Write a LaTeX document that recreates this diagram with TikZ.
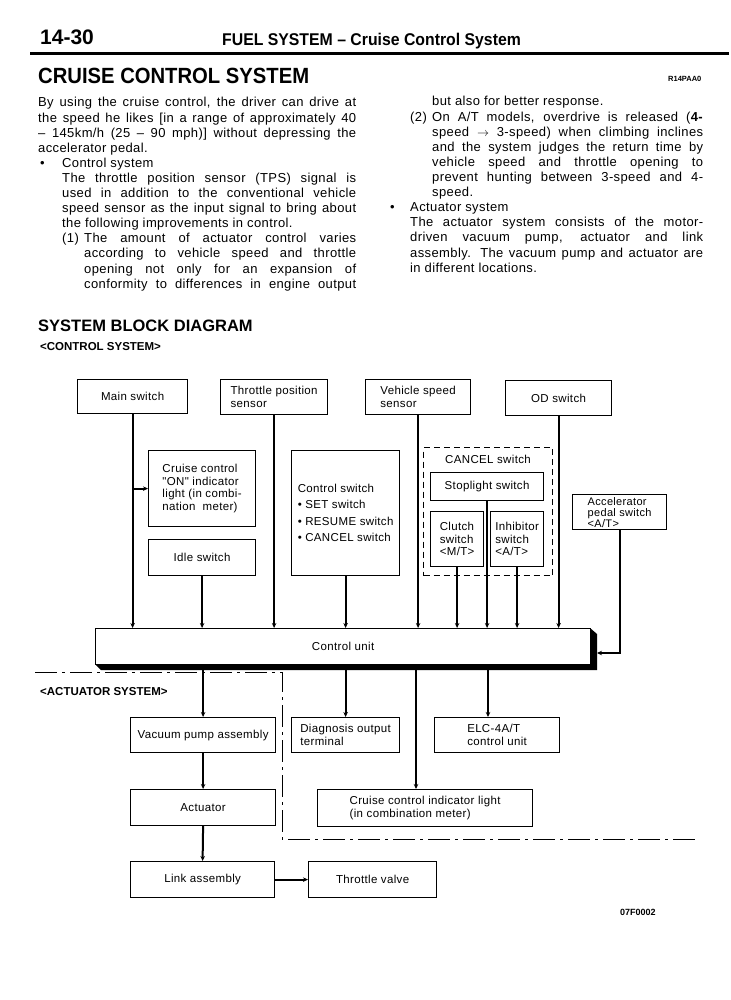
\documentclass[tikz,border=0pt]{standalone}
\usepackage{fontspec}
\setmainfont{Liberation Sans}
\newfontfamily\lsf[LetterSpace=3]{Liberation Sans}
\usetikzlibrary{arrows.meta}
\begin{document}
\begin{tikzpicture}[x=1pt,y=-1pt,
  txt/.style={anchor=base west, inner sep=0pt, font=\fontsize{13}{15}\lsf},
  hdg/.style={anchor=base west, inner sep=0pt},
  box/.style={draw, line width=1.2pt, inner sep=0pt, align=left, anchor=north west, font=\fontsize{11.5}{12.5}\lsf},
  conn/.style={line width=2pt, -{Stealth[length=5pt,width=4.5pt]}},
  dashdot/.style={line width=1pt, dash pattern=on 22pt off 5pt on 3pt off 5pt},
  grpbox/.style={draw, line width=1.1pt, dash pattern=on 6pt off 4pt, inner sep=0pt, anchor=north west}]
\useasboundingbox (0,0) rectangle (730,1000);
\fill[white] (0,0) rectangle (730,1000);

% ---------- header ----------
\node[hdg, font=\fontsize{21}{21}\selectfont\bfseries] (pg) at (40,45) {14-30};
\node[hdg, font=\fontsize{17}{17}\selectfont\bfseries] (hd) at (222,46) {\scalebox{0.93}[1]{FUEL SYSTEM – Cruise Control System}};
\draw[line width=3pt] (30,54) -- (729,54);
\node[hdg, font=\fontsize{22}{22}\selectfont\bfseries] (title) at (38,84) {\scalebox{0.92}[1]{CRUISE CONTROL SYSTEM}};
\node[hdg, font=\fontsize{7.5}{7.5}\selectfont\bfseries] (code1) at (668,82) {R14PAA0};

% ---------- left column ----------
\node[txt] (l1) at (38,107) {\makebox[318pt][s]{By using the cruise control, the driver can drive at}};
\node[txt] (l2) at (38,122.1) {\makebox[318pt][s]{the speed he likes [in a range of approximately 40}};
\node[txt] (l3) at (38,137.2) {\makebox[318pt][s]{– 145km/h (25 – 90 mph)] without depressing the}};
\node[txt] (l4) at (38,152.3) {accelerator pedal.};
\node[txt] (l5b) at (40,167.4) {•};
\node[txt] (l5) at (62,167.4) {Control system};
\node[txt] (l6) at (62,182.5) {\makebox[294pt][s]{The throttle position sensor (TPS) signal is}};
\node[txt] (l7) at (62,197.6) {\makebox[294pt][s]{used in addition to the conventional vehicle}};
\node[txt] (l8) at (62,212.7) {\makebox[294pt][s]{speed sensor as the input signal to bring about}};
\node[txt] (l9) at (62,227.8) {the following improvements in control.};
\node[txt] (l10n) at (62,242.9) {(1)};
\node[txt] (l10) at (84,242.9) {\makebox[272pt][s]{The amount of actuator control varies}};
\node[txt] (l11) at (84,258) {\makebox[272pt][s]{according to vehicle speed and throttle}};
\node[txt] (l12) at (84,273.1) {\makebox[272pt][s]{opening not only for an expansion of}};
\node[txt] (l13) at (84,288.2) {\makebox[272pt][s]{conformity to differences in engine output}};

% ---------- right column ----------
\node[txt] (r1) at (432,106) {but also for better response.};
\node[txt] (r2n) at (410,121.1) {(2)};
\node[txt] (r2) at (432,121.1) {\makebox[271pt][s]{On A/T models, overdrive is released (\textbf{4-}}};
\node[txt] (r3) at (432,136.2) {\makebox[271pt][s]{speed $\rightarrow$ 3-speed) when climbing inclines}};
\node[txt] (r4) at (432,151.3) {\makebox[271pt][s]{and the system judges the return time by}};
\node[txt] (r5) at (432,166.4) {\makebox[271pt][s]{vehicle speed and throttle opening to}};
\node[txt] (r6) at (432,181.5) {\makebox[271pt][s]{prevent hunting between 3-speed and 4-}};
\node[txt] (r7) at (432,196.6) {speed.};
\node[txt] (r8b) at (390,211.7) {•};
\node[txt] (r8) at (410,211.7) {Actuator system};
\node[txt] (r9) at (410,226.8) {\makebox[293pt][s]{The actuator system consists of the motor-}};
\node[txt] (r10) at (410,241.9) {\makebox[293pt][s]{driven vacuum pump, actuator and link}};
\node[txt] (r11) at (410,257) {\makebox[293pt][s]{assembly. The vacuum pump and actuator are}};
\node[txt] (r12) at (410,272.1) {in different locations.};

% ---------- section headings ----------
\node[hdg, font=\fontsize{16.5}{16.5}\selectfont\bfseries] (sbd) at (38,331) {SYSTEM BLOCK DIAGRAM};
\node[hdg, font=\fontsize{11.5}{11.5}\selectfont\bfseries] (csys) at (40,350) {<CONTROL SYSTEM>};
\node[hdg, font=\fontsize{11.5}{11.5}\selectfont\bfseries] (asys) at (40,695) {<ACTUATOR SYSTEM>};
\node[hdg, font=\fontsize{9}{9}\selectfont\bfseries] (code2) at (620,915) {07F0002};

% ---------- control system boxes ----------
\node[box, minimum width=110pt, minimum height=34pt] (mainsw) at (77,379) {Main switch};
\node[box, minimum width=107pt, minimum height=35pt] (tps) at (220,379) {Throttle position\\sensor};
\node[box, minimum width=105pt, minimum height=35pt] (vss) at (365,379) {Vehicle speed\\sensor};
\node[box, minimum width=106pt, minimum height=35pt] (od) at (505,380) {OD switch};
\node[box, minimum width=107pt, minimum height=76pt] (onind) at (148,450) {Cruise control\\"ON" indicator\\light (in combi-\\nation\ \ meter)};
\node[box, minimum width=108pt, minimum height=125pt] (ctrlsw) at (291,450) {Control switch\\[4pt]• SET switch\\[4pt]• RESUME switch\\[4pt]• CANCEL switch};
\node[box, minimum width=107pt, minimum height=36pt] (idle) at (148,539) {Idle switch};
\node[grpbox, minimum width=129pt, minimum height=128pt] (cancel) at (423,447) {};
\node[anchor=center, inner sep=0pt, font=\fontsize{11.5}{12.5}\lsf] (cancell) at (488,459) {CANCEL switch};
\node[box, minimum width=113pt, minimum height=28pt] (stop) at (430,472) {Stoplight switch};
\node[box, minimum width=53pt, minimum height=55pt] (clutch) at (430,511) {Clutch\\switch\\<M/T>};
\node[box, minimum width=53pt, minimum height=55pt] (inhib) at (490,511) {Inhibitor\\switch\\<A/T>};
\node[box, minimum width=94pt, minimum height=35pt, font=\fontsize{11}{11}\lsf] (accel) at (572,494) {Accelerator\\pedal switch\\<A/T>};

% ---------- control unit ----------
\fill (590,628) -- (597,634) -- (597,670) -- (101,670) -- (95,664) -- (590,664) -- cycle;
\node[box, fill=white, align=center, minimum width=495pt, minimum height=36pt] (cu) at (95,628) {Control unit};
\coordinate (cuR) at (597,653);
\coordinate (elcx) at (488,700);
\coordinate (cilx) at (416,700);

% ---------- actuator system boxes ----------
\node[box, minimum width=145pt, minimum height=35pt] (vac) at (130,717) {Vacuum pump assembly};
\node[box, minimum width=108pt, minimum height=35pt] (diag) at (291,717) {Diagnosis output\\terminal};
\node[box, minimum width=125pt, minimum height=35pt] (elc) at (434,717) {ELC-4A/T\\control unit};
\node[box, minimum width=145pt, minimum height=36pt] (act) at (130,789) {Actuator};
\node[box, minimum width=215pt, minimum height=37pt] (cil) at (317,789) {Cruise control indicator light\\(in combination meter)};
\node[box, minimum width=144pt, minimum height=36pt] (link) at (130,861) {Link assembly};
\node[box, minimum width=128pt, minimum height=36pt] (tv) at (308,861) {Throttle valve};

% ---------- region boundary ----------
\draw[dashdot] (35,672) -- (282,672) -- (282,839) -- (695,839);

% ---------- connectors into control unit ----------
\draw[conn] (mainsw.south) -- (mainsw.south |- cu.north);
\draw[conn] (mainsw.south |- onind.west) -- (onind.west);
\draw[conn] (idle.south) -- (idle.south |- cu.north);
\draw[conn] (tps.south) -- (tps.south |- cu.north);
\draw[conn] (ctrlsw.south) -- (ctrlsw.south |- cu.north);
\draw[conn] (vss.south) -- (vss.south |- cu.north);
\draw[conn] (clutch.south) -- (clutch.south |- cu.north);
\draw[conn] (stop.south) -- (stop.south |- cu.north);
\draw[conn] (inhib.south) -- (inhib.south |- cu.north);
\draw[conn] (od.south) -- (od.south |- cu.north);
\draw[conn] (accel.south) |- (cuR);

% ---------- connectors out of control unit ----------
\draw[conn] (cu.south -| vac.north) -- (vac.north);
\draw[conn] (cu.south -| diag.north) -- (diag.north);
\draw[conn] (cu.south -| cilx) -- (cilx |- cil.north);
\draw[conn] (cu.south -| elcx) -- (elcx |- elc.north);
\draw[conn] (vac.south) -- (act.north);
\draw[conn] (act.south) -- (link.north);
\draw[conn] (link.east) -- (tv.west);
\end{tikzpicture}
\end{document}
